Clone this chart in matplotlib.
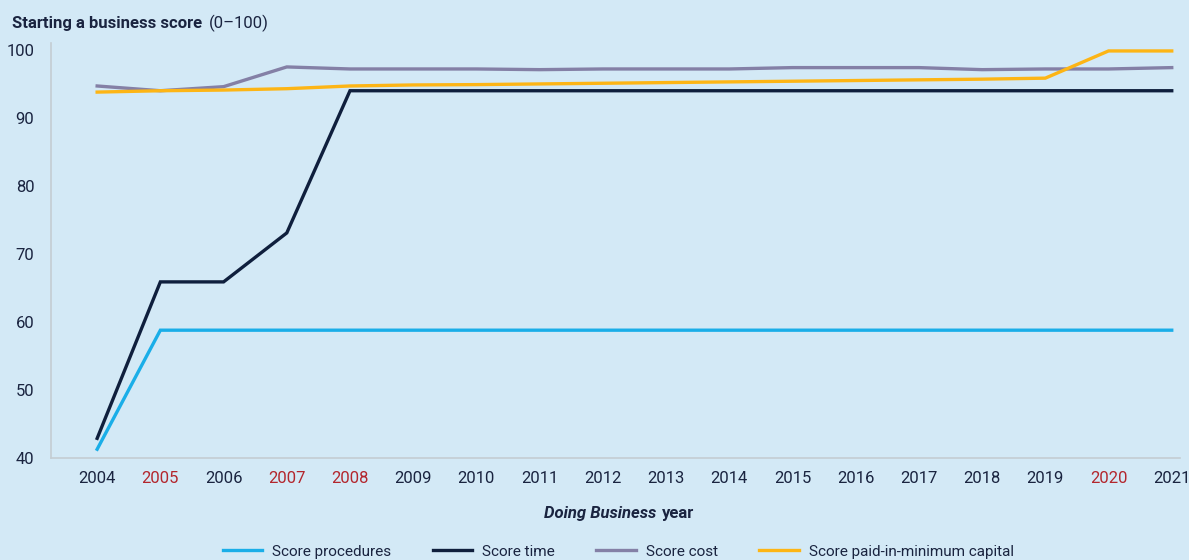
import matplotlib
matplotlib.use("Agg")
import matplotlib.pyplot as plt
from matplotlib.lines import Line2D
from matplotlib.offsetbox import TextArea, HPacker, AnchoredOffsetbox

years = list(range(2004, 2022))
red_years = [2005, 2007, 2008, 2020]
score_procedures = [41.3] + [58.8] * 17
score_time = [42.9, 65.9, 65.9, 73.1] + [94.0] * 14
score_cost = [94.7, 94.0, 94.6, 97.5, 97.2, 97.2, 97.2, 97.1, 97.2, 97.2, 97.2,
              97.4, 97.4, 97.4, 97.1, 97.2, 97.2, 97.4]
score_capital = [93.8, 94.0, 94.1, 94.3, 94.7, 94.85, 94.9, 95.0, 95.1, 95.2,
                 95.3, 95.4, 95.5, 95.6, 95.7, 95.85, 99.85, 99.85]
series_names = ["Score procedures", "Score time", "Score cost",
                "Score paid-in-minimum capital"]
y_ticks = [40, 50, 60, 70, 80, 90, 100]

colors = ["#1AAEE8", "#0F1F3D", "#8480A6", "#FDB515"]
bg = "#D3E9F6"
txt = "#1A2440"
red = "#B3262D"
fs = 12

plt.rcParams['font.family'] = ['Roboto', 'DejaVu Sans']

fig = plt.figure(figsize=(11.89, 5.6), dpi=100, facecolor=bg)
ax = fig.add_axes([0.0429, 0.182, 0.9495, 0.741])
ax.set_facecolor(bg)

for vals, c in zip([score_procedures, score_time, score_cost, score_capital], colors):
    ax.plot(years, vals, color=c, lw=2.4, solid_joinstyle='miter')

ax.set_ylim(40, 101)
ax.set_xlim(2003.27, 2021.13)
ax.set_yticks(y_ticks)
ax.set_xticks(years)
ax.set_xticklabels([str(y) for y in years])
ax.tick_params(axis='both', length=0, labelsize=fs, colors=txt)
ax.tick_params(axis='x', pad=9)
ax.tick_params(axis='y', pad=12)
for lab, y in zip(ax.get_xticklabels(), years):
    lab.set_color(red if y in red_years else txt)
for s in ['top', 'right']:
    ax.spines[s].set_visible(False)
for s in ['left', 'bottom']:
    ax.spines[s].set_color("#C4CDD3")
    ax.spines[s].set_linewidth(1.2)

# title: bold part + regular part
t1 = TextArea("Starting a business score", textprops=dict(fontsize=fs, fontweight='bold', color=txt))
t2 = TextArea("(0–100)", textprops=dict(fontsize=fs, color=txt))
title = HPacker(children=[t1, t2], align='baseline', pad=0, sep=5)
ab = AnchoredOffsetbox(loc='center left', child=title, pad=0, frameon=False,
                       bbox_to_anchor=(0.010, 0.958), bbox_transform=fig.transFigure,
                       borderpad=0)
fig.add_artist(ab)

# x label: italic + regular bold
x1 = TextArea("Doing Business", textprops=dict(fontsize=fs, fontweight='bold', fontstyle='italic', color=txt))
x2 = TextArea("year", textprops=dict(fontsize=fs, fontweight='bold', color=txt))
xl = HPacker(children=[x1, x2], align='baseline', pad=0, sep=4)
ab2 = AnchoredOffsetbox(loc='center', child=xl, pad=0, frameon=False,
                        bbox_to_anchor=(0.521, 0.083), bbox_transform=fig.transFigure,
                        borderpad=0)
fig.add_artist(ab2)

handles = [Line2D([0], [0], color=c, lw=2.4) for c in colors]
fig.legend(handles, series_names, loc='center', bbox_to_anchor=(0.520, 0.015),
           ncol=4, frameon=False, fontsize=11, handlelength=2.6,
           columnspacing=2.7, handletextpad=0.65, labelcolor=txt)

fig.savefig("out.png", dpi=100, facecolor=bg)
